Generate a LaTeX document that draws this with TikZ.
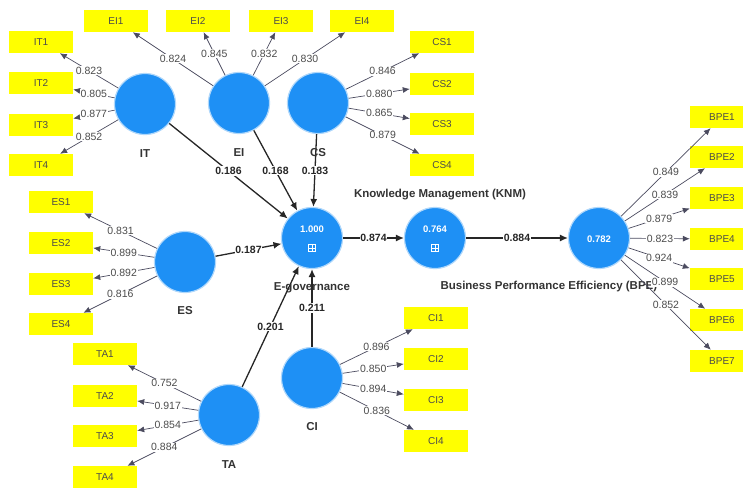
\documentclass[tikz,border=0pt]{standalone}
\usepackage{fontspec}
\setmainfont{Liberation Sans}
\definecolor{plsblue}{RGB}{30,144,245}
\definecolor{plsyellow}{RGB}{255,255,0}
\definecolor{plsedge}{RGB}{75,75,95}
\usetikzlibrary{arrows.meta}

\begin{document}
\begin{tikzpicture}[x=1pt, y=-1pt,
  lv/.style={circle, fill=plsblue, draw=plsblue!35, line width=1.2pt, minimum size=61pt, inner sep=0pt},
  mv/.style={fill=plsyellow, minimum width=64pt, minimum height=22pt, inner sep=0pt, font=\fontsize{10}{12}\selectfont, text=black!70},
  lvname/.style={font=\bfseries\fontsize{11.5}{13}\selectfont, text=black!80},
  rsq/.style={text=white, font=\bfseries\fontsize{9.5}{11}\selectfont},
  icon/.style={draw=white, line width=0.6pt, minimum size=7pt, inner sep=0pt,
    path picture={\draw[white, line width=0.5pt] (path picture bounding box.north) -- (path picture bounding box.south)
      (path picture bounding box.west) -- (path picture bounding box.east);}},
  load/.style={draw=plsedge, line width=0.7pt, -{Latex[length=7pt,width=6pt]}},
  lw/.style={fill=white, inner sep=0.8pt, font=\fontsize{10.5}{12}\selectfont, text=black!70},
  pc/.style={draw=black!85, line width=1.3pt, -{Latex[length=8pt,width=7pt]}},
  pw/.style={fill=white, inner sep=0.8pt, font=\bfseries\fontsize{10.5}{12}\selectfont, text=black!85}]
\useasboundingbox (0,0) rectangle (743,487);

% latent variables
\node[lv] (IT) at (145,104) {};
\node[lv] (EI) at (239,103) {};
\node[lv] (CS) at (318,103) {};
\node[lv] (ES) at (185,262) {};
\node[lv] (EG) at (312,238) {};
\node[lv] (KNM) at (435,238) {};
\node[lv] (BPE) at (599,238) {};
\node[lv] (TA) at (229,415) {};
\node[lv] (CI) at (312,378) {};

\node[rsq] (EGr2) at (312,229) {1.000};
\node[icon] (EGicon) at (312,248) {};
\node[rsq] (KNMr2) at (435,229) {0.764};
\node[icon] (KNMicon) at (435,248) {};
\node[rsq] (BPEr2) at (599,239) {0.782};

% indicators
\node[mv] (IT1) at (41,42) {IT1};
\node[mv] (IT2) at (41,83) {IT2};
\node[mv] (IT3) at (41,125) {IT3};
\node[mv] (IT4) at (41,165) {IT4};
\node[mv] (EI1) at (116,21) {EI1};
\node[mv] (EI2) at (198,21) {EI2};
\node[mv] (EI3) at (281,21) {EI3};
\node[mv] (EI4) at (362,21) {EI4};
\node[mv] (CS1) at (442,42) {CS1};
\node[mv] (CS2) at (442,84) {CS2};
\node[mv] (CS3) at (442,124) {CS3};
\node[mv] (CS4) at (442,165) {CS4};
\node[mv] (ES1) at (61,202) {ES1};
\node[mv] (ES2) at (61,243) {ES2};
\node[mv] (ES3) at (61,284) {ES3};
\node[mv] (ES4) at (61,324) {ES4};
\node[mv] (TA1) at (105,354) {TA1};
\node[mv] (TA2) at (105,396) {TA2};
\node[mv] (TA3) at (105,436) {TA3};
\node[mv] (TA4) at (105,477) {TA4};
\node[mv] (CI1) at (436,318) {CI1};
\node[mv] (CI2) at (436,359) {CI2};
\node[mv] (CI3) at (436,400) {CI3};
\node[mv] (CI4) at (436,441) {CI4};
\node[mv] (BPE1) at (722,117) {BPE1};
\node[mv] (BPE2) at (722,157) {BPE2};
\node[mv] (BPE3) at (722,198) {BPE3};
\node[mv] (BPE4) at (722,239) {BPE4};
\node[mv] (BPE5) at (722,279) {BPE5};
\node[mv] (BPE6) at (722,320) {BPE6};
\node[mv] (BPE7) at (722,361) {BPE7};

\node[lvname, anchor=west] (BPEname) at (437,287) {Business Performance Efficiency (BPE)};

% outer loadings
\draw[load] (IT) -- node[lw]{0.823} (IT1);
\draw[load] (IT) -- node[lw]{0.805} (IT2);
\draw[load] (IT) -- node[lw]{0.877} (IT3);
\draw[load] (IT) -- node[lw]{0.852} (IT4);
\draw[load] (EI) -- node[lw]{0.824} (EI1);
\draw[load] (EI) -- node[lw]{0.845} (EI2);
\draw[load] (EI) -- node[lw]{0.832} (EI3);
\draw[load] (EI) -- node[lw]{0.830} (EI4);
\draw[load] (CS) -- node[lw]{0.846} (CS1);
\draw[load] (CS) -- node[lw]{0.880} (CS2);
\draw[load] (CS) -- node[lw]{0.865} (CS3);
\draw[load] (CS) -- node[lw]{0.879} (CS4);
\draw[load] (ES) -- node[lw]{0.831} (ES1);
\draw[load] (ES) -- node[lw]{0.899} (ES2);
\draw[load] (ES) -- node[lw]{0.892} (ES3);
\draw[load] (ES) -- node[lw]{0.816} (ES4);
\draw[load] (TA) -- node[lw]{0.752} (TA1);
\draw[load] (TA) -- node[lw]{0.917} (TA2);
\draw[load] (TA) -- node[lw]{0.854} (TA3);
\draw[load] (TA) -- node[lw]{0.884} (TA4);
\draw[load] (CI) -- node[lw]{0.896} (CI1);
\draw[load] (CI) -- node[lw]{0.850} (CI2);
\draw[load] (CI) -- node[lw]{0.894} (CI3);
\draw[load] (CI) -- node[lw]{0.836} (CI4);
\draw[load] (BPE) -- node[lw]{0.849} (BPE1);
\draw[load] (BPE) -- node[lw]{0.839} (BPE2);
\draw[load] (BPE) -- node[lw]{0.879} (BPE3);
\draw[load] (BPE) -- node[lw]{0.823} (BPE4);
\draw[load] (BPE) -- node[lw]{0.924} (BPE5);
\draw[load] (BPE) -- node[lw]{0.899} (BPE6);
\draw[load] (BPE) -- node[lw]{0.852} (BPE7);

% path coefficients
\draw[pc] (IT) -- node[pw]{0.186} (EG);
\draw[pc] (EI) -- node[pw]{0.168} (EG);
\draw[pc] (CS) -- node[pw]{0.183} (EG);
\draw[pc] (ES) -- node[pw]{0.187} (EG);
\draw[pc] (TA) -- node[pw]{0.201} (EG);
\draw[pc] (CI) -- node[pw]{0.211} (EG);
\draw[pc] (EG) -- node[pw]{0.874} (KNM);
\draw[pc] (KNM) -- node[pw]{0.884} (BPE);

% names
\node[lvname] (ITname) at (145,154) {IT};
\node[lvname] (EIname) at (239,153) {EI};
\node[lvname] (CSname) at (318,153) {CS};
\node[lvname] (ESname) at (185,311) {ES};
\node[lvname] (TAname) at (229,465) {TA};
\node[lvname] (CIname) at (312,427) {CI};
\node[lvname] (EGname) at (312,288) {E-governance};
\node[lvname] (KNMname) at (440,195) {Knowledge Management (KNM)};
\end{tikzpicture}
\end{document}
